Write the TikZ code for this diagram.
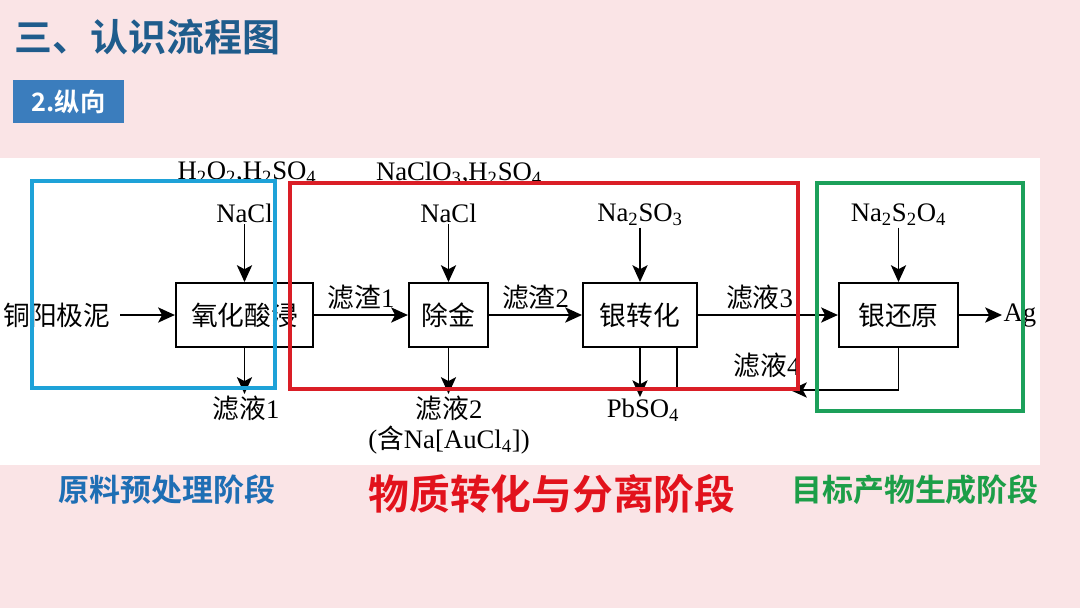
\documentclass[tikz,border=0pt]{standalone}
\usepackage{fontspec}
\setmainfont{Liberation Serif}
\newfontfamily\cjk{Noto Sans CJK SC}
\newfontfamily\cjkbold{Noto Sans CJK SC Bold}
\usetikzlibrary{arrows.meta}
\newcommand\chsub[1]{\textsubscript{#1}}
\definecolor{bgpink}{RGB}{250,228,230}
\definecolor{titleblue}{RGB}{31,92,140}
\definecolor{badgeblue}{RGB}{59,125,189}
\definecolor{frameblue}{RGB}{30,162,216}
\definecolor{framered}{RGB}{218,30,38}
\definecolor{framegreen}{RGB}{28,160,90}
\definecolor{stageblue}{RGB}{30,110,180}
\definecolor{stagered}{RGB}{226,18,28}
\definecolor{stagegreen}{RGB}{28,158,72}
\tikzset{
  procbox/.style={draw, line width=1.4pt, minimum height=1.6cm, inner sep=0pt,
    font=\cjk\fontsize{19}{22}\selectfont},
  lbl/.style={inner sep=1pt, font=\fontsize{19}{22}\selectfont},
  flow/.style={-{Stealth[length=0.42cm,width=0.38cm,inset=0.1cm]}, line width=1.2pt},
  stagebox/.style={line width=2.2pt},
  stagename/.style={font=\cjkbold\fontsize{22}{26}\selectfont}
}
\begin{document}
\begin{tikzpicture}[x=0.025cm, y=-0.025cm]
  % page and white panel
  \fill[bgpink] (0,0) rectangle (1080,608);
  \useasboundingbox (0,0) rectangle (1080,608);
  \fill[white] (0,158) rectangle (1040,465);
  \node[anchor=west, inner sep=0pt, text=titleblue, font=\cjkbold\fontsize{27}{30}\selectfont] (title) at (14,37) {三、认识流程图};
  \node[fill=badgeblue, text=white, minimum width=2.78cm, minimum height=1.08cm, inner sep=0pt,
    font=\cjkbold\fontsize{18}{20}\selectfont] (badge) at (68.5,101.5) {2.纵向};

  % process steps
  \node[procbox, minimum width=3.43cm] (ox) at (244.5,315) {氧化酸浸};
  \node[procbox, minimum width=1.98cm] (cj) at (448.5,315) {除金};
  \node[procbox, minimum width=2.85cm] (zh) at (640,315) {银转化};
  \node[procbox, minimum width=2.98cm] (hy) at (898.5,315) {银还原};

  % reagents and products
  \node[lbl, font=\cjk\fontsize{19}{22}\selectfont] (raw) at (57,315) {铜阳极泥};
  \node[lbl] (r1a) at (247,173) {H\chsub{2}O\chsub{2},H\chsub{2}SO\chsub{4}};
  \node[lbl] (r1b) at (244.5,213) {NaCl};
  \node[lbl] (r2a) at (459,173) {NaClO\chsub{3},H\chsub{2}SO\chsub{4}};
  \node[lbl] (r2b) at (448.5,213) {NaCl};
  \node[lbl] (r3) at (640,215) {Na\chsub{2}SO\chsub{3}};
  \node[lbl] (r4) at (898.5,215) {Na\chsub{2}S\chsub{2}O\chsub{4}};
  \node[lbl] (f1) at (246,408) {{\cjk 滤液}1};
  \node[lbl] (f2) at (449,408) {{\cjk 滤液}2};
  \node[lbl] (f2b) at (449,440) {({\cjk 含}Na[AuCl\chsub{4}])};
  \node[lbl] (pb) at (643,410) {PbSO\chsub{4}};
  \node[lbl] (ag) at (1020,316) {Ag};
  \node[lbl] (f4) at (767,365) {{\cjk 滤液}4};

  % main line
  \draw[flow] (raw.east -| 120,0) -- (ox.west);
  \draw[flow] (ox) -- node[lbl, above=2pt] {{\cjk 滤渣}1} (cj);
  \draw[flow] (cj) -- node[lbl, above=2pt] {{\cjk 滤渣}2} (zh);
  \draw[flow] (zh) -- node[lbl, above=2pt, xshift=-6] {{\cjk 滤液}3} (hy);
  \draw[flow] (hy.east) -- (hy.east -| ag.west);

  % side streams
  \draw[flow] (r1b) -- (ox);
  \draw[flow] (r2b) -- (cj);
  \draw[flow] (r3) -- (zh);
  \draw[flow] (r4) -- (hy);
  \draw[flow] (ox.south) -- (ox.south |- f1.north);
  \draw[flow] (cj.south) -- (cj.south |- f2.north);
  \draw[flow] (zh.south) -- (zh.south |- pb.north);

  % 滤液4 back to the silver step
  \coordinate (back) at (790,390);
  \coordinate (ret) at (677,390);
  \draw[flow] (hy.south) |- (back);
  \draw[line width=1.2pt] (back) -- (ret) -- (ret |- zh.south);

  % stage frames
  \draw[stagebox, frameblue] (32,181) rectangle (275,388);
  \draw[stagebox, framered] (290,183) rectangle (798,389);
  \draw[stagebox, framegreen] (817,183) rectangle (1023,411);
  \node[stagename, text=stageblue] (s1) at (167,490) {原料预处理阶段};
  \node[stagename, text=stagered, font=\cjkbold\fontsize{29}{32}\selectfont] (s2) at (552,494) {物质转化与分离阶段};
  \node[stagename, text=stagegreen] (s3) at (915,490) {目标产物生成阶段};
\end{tikzpicture}
\end{document}
